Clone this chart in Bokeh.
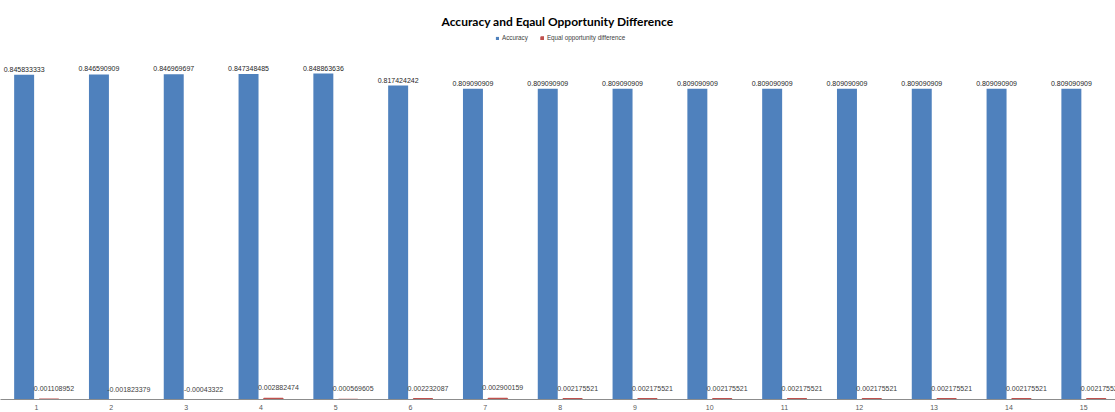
from bokeh.plotting import figure
from bokeh.models import ColumnDataSource, FixedTicker, Label, Legend, LegendItem, Range1d
from bokeh.transform import dodge
from bokeh.embed import file_html
from bokeh.resources import INLINE
from bokeh.core.properties import value

categories = list(range(1, 16))
accuracy = [0.845833333, 0.846590909, 0.846969697, 0.847348485, 0.848863636,
            0.817424242, 0.809090909, 0.809090909, 0.809090909, 0.809090909,
            0.809090909, 0.809090909, 0.809090909, 0.809090909, 0.809090909]
eq_opp_diff = [0.001108952, -0.001823379, -0.00043322, 0.002882474, 0.000569605,
               0.002232087, 0.002900159, 0.002175521, 0.002175521, 0.002175521,
               0.002175521, 0.002175521, 0.002175521, 0.002175521, 0.002175521]

acc_lbl = [f"{v:.9g}" for v in accuracy]
eod_lbl = [f"{v:.9g}" for v in eq_opp_diff]

src = ColumnDataSource(dict(x=categories, acc=accuracy, eod=eq_opp_diff,
                            acc_lbl=acc_lbl, eod_lbl=eod_lbl))

FONT = "Liberation Sans"
BLUE = "#4F81BD"
RED = "#C0504D"

p = figure(width=1115, height=412, output_backend="svg", toolbar_location=None,
           y_axis_location=None, x_range=Range1d(0.519, 15.425),
           y_range=Range1d(0, 1.039), min_border=0)
p.outline_line_color = None
p.xgrid.visible = False
p.ygrid.visible = False

r1 = p.vbar(x=dodge('x', -0.165), top='acc', bottom=0, width=0.267, source=src,
            fill_color=BLUE, line_color=None)
r2 = p.vbar(x=dodge('x', 0.167), top='eod', bottom=0, width=0.254, source=src,
            fill_color=RED, line_color=RED, line_width=1.2)

p.text(x=dodge('x', -0.165), y='acc', text='acc_lbl', source=src,
       text_align='center', text_baseline='bottom', y_offset=-3,
       text_font=value(FONT), text_font_size="7px", text_color="#262626")
p.text(x=dodge('x', 0.167), y='eod', text='eod_lbl', source=src,
       text_align='center', text_baseline='bottom', y_offset=-8, x_offset=5,
       text_font=value(FONT), text_font_size="7px", text_color="#404040")

ax = p.xaxis[0]
ax.ticker = FixedTicker(ticks=categories)
ax.major_tick_line_color = None
ax.minor_tick_line_color = None
ax.major_tick_out = 0
ax.major_tick_in = 0
ax.minor_tick_out = 0
ax.axis_line_color = "#8c8c8c"
ax.major_label_text_font = FONT
ax.major_label_text_font_size = "7px"
ax.major_label_text_color = "#595959"
ax.major_label_standoff = 5

p.add_layout(Label(x=560, y=378, x_units="screen", y_units="screen",
                   text="Accuracy   and Eqaul Opportunity Difference",
                   text_align="center", text_baseline="middle",
                   text_font="Lato", text_font_style="bold",
                   text_font_size="12px", text_color="#000000"))

legend = Legend(items=[LegendItem(label="Accuracy", renderers=[r1]),
                       LegendItem(label="Equal opportunity difference", renderers=[r2])],
                location=(495, 358), orientation="horizontal",
                glyph_width=4, glyph_height=4, label_standoff=3, spacing=12,
                padding=0, margin=0, label_height=6, label_width=10,
                label_text_font=FONT, label_text_font_size="6.3px",
                label_text_color="#404040",
                border_line_color=None, background_fill_alpha=0)
p.add_layout(legend, "center")

open("out.html", "w").write(file_html(p, INLINE))
